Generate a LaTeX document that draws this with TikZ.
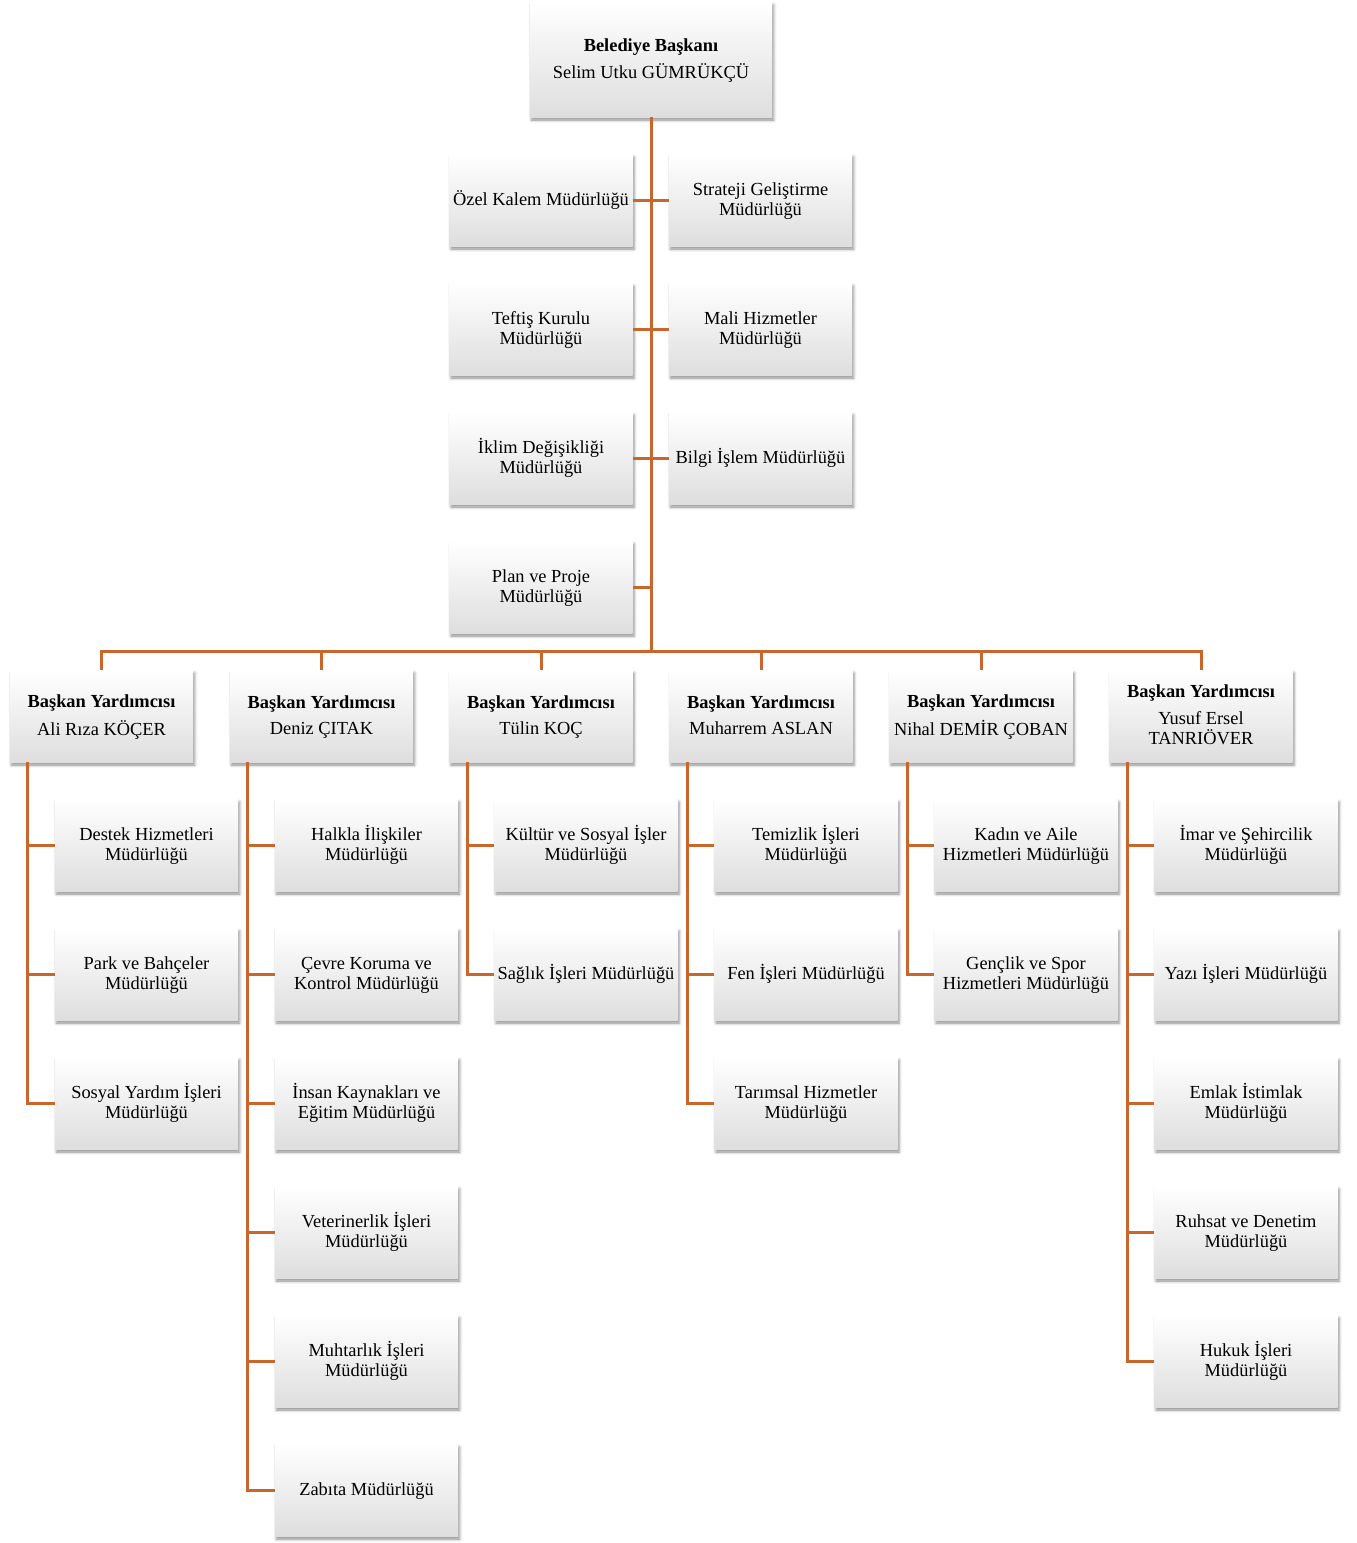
\documentclass[tikz,border=0pt]{standalone}
\usepackage{fontspec}
\setmainfont{Liberation Serif}
\usetikzlibrary{shadows.blur}
\definecolor{lineor}{RGB}{200,102,44}
\newcommand{\bx}[1]{\begin{tabular}{@{}c@{}}\rule{0pt}{17pt}#1\rule[-6.5pt]{0pt}{0pt}\end{tabular}}
\tikzset{
  orgbox/.style={rectangle, minimum width=183pt, minimum height=92pt, inner sep=1pt,
    top color=white, bottom color=gray!26,
    font=\fontsize{18.4}{19.5}\selectfont,
    blur shadow={shadow xshift=1.5pt, shadow yshift=-3pt, shadow blur radius=3pt, shadow opacity=45}},
  topbox/.style={orgbox, minimum width=242pt, minimum height=115pt},
  conn/.style={draw=lineor, line width=3pt}
}
\newcommand{\vptitle}[1]{\bx{\textbf{Başkan Yardımcısı}\\[7pt]#1}}
\begin{document}
\begin{tikzpicture}[x=1pt,y=-1pt]
\useasboundingbox (0,0) rectangle (1357,1543);
\coordinate (bus) at (651,651);
% nodes
\node[topbox] (top) at (651,59.5) {\bx{\textbf{Belediye Başkanı}\\[6pt]Selim Utku GÜMRÜKÇÜ}};
\node[orgbox] (l1) at (541,200) {\bx{Özel Kalem Müdürlüğü}};
\node[orgbox] (r1) at (760.5,200) {\bx{Strateji Geliştirme\\Müdürlüğü}};
\node[orgbox] (l2) at (541,329) {\bx{Teftiş Kurulu\\Müdürlüğü}};
\node[orgbox] (r2) at (760.5,329) {\bx{Mali Hizmetler\\Müdürlüğü}};
\node[orgbox] (l3) at (541,458) {\bx{İklim Değişikliği\\Müdürlüğü}};
\node[orgbox] (r3) at (760.5,458) {\bx{Bilgi İşlem Müdürlüğü}};
\node[orgbox] (l4) at (541,587) {\bx{Plan ve Proje\\Müdürlüğü}};
\coordinate (t4) at (651,587);
% VPs
\node[orgbox] (v1) at (101.5,716) {\vptitle{Ali Rıza KÖÇER}};
\node[orgbox] (v2) at (321.5,716) {\vptitle{Deniz ÇITAK}};
\node[orgbox] (v3) at (541,716) {\vptitle{Tülin KOÇ}};
\node[orgbox] (v4) at (761,716) {\vptitle{Muharrem ASLAN}};
\node[orgbox] (v5) at (981,716) {\vptitle{Nihal DEMİR ÇOBAN}};
\node[orgbox] (v6) at (1201,716) {\vptitle{Yusuf Ersel\\TANRIÖVER}};
% column 1
\node[orgbox] (a1) at (146.5,845) {\bx{Destek Hizmetleri\\Müdürlüğü}};
\node[orgbox] (a2) at (146.5,974) {\bx{Park ve Bahçeler\\Müdürlüğü}};
\node[orgbox] (a3) at (146.5,1103) {\bx{Sosyal Yardım İşleri\\Müdürlüğü}};
% column 2
\node[orgbox] (b1) at (366.5,845) {\bx{Halkla İlişkiler\\Müdürlüğü}};
\node[orgbox] (b2) at (366.5,974) {\bx{Çevre Koruma ve\\Kontrol Müdürlüğü}};
\node[orgbox] (b3) at (366.5,1103) {\bx{İnsan Kaynakları ve\\Eğitim Müdürlüğü}};
\node[orgbox] (b4) at (366.5,1232) {\bx{Veterinerlik İşleri\\Müdürlüğü}};
\node[orgbox] (b5) at (366.5,1361) {\bx{Muhtarlık İşleri\\Müdürlüğü}};
\node[orgbox] (b6) at (366.5,1490) {\bx{Zabıta Müdürlüğü}};
% column 3
\node[orgbox] (c1) at (586,845) {\bx{Kültür ve Sosyal İşler\\Müdürlüğü}};
\node[orgbox] (c2) at (586,974) {\bx{Sağlık İşleri Müdürlüğü}};
% column 4
\node[orgbox] (d1) at (806,845) {\bx{Temizlik İşleri\\Müdürlüğü}};
\node[orgbox] (d2) at (806,974) {\bx{Fen İşleri Müdürlüğü}};
\node[orgbox] (d3) at (806,1103) {\bx{Tarımsal Hizmetler\\Müdürlüğü}};
% column 5
\node[orgbox] (e1) at (1026,845) {\bx{Kadın ve Aile\\Hizmetleri Müdürlüğü}};
\node[orgbox] (e2) at (1026,974) {\bx{Gençlik ve Spor\\Hizmetleri Müdürlüğü}};
% column 6
\node[orgbox] (f1) at (1246,845) {\bx{İmar ve Şehircilik\\Müdürlüğü}};
\node[orgbox] (f2) at (1246,974) {\bx{Yazı İşleri Müdürlüğü}};
\node[orgbox] (f3) at (1246,1103) {\bx{Emlak İstimlak\\Müdürlüğü}};
\node[orgbox] (f4) at (1246,1232) {\bx{Ruhsat ve Denetim\\Müdürlüğü}};
\node[orgbox] (f5) at (1246,1361) {\bx{Hukuk İşleri\\Müdürlüğü}};
% connectors
\draw[conn] (top.south) -- (bus);
\draw[conn] (l1.east) -- (r1.west);
\draw[conn] (l2.east) -- (r2.west);
\draw[conn] (l3.east) -- (r3.west);
\draw[conn] (l4.east) -- (t4);
\foreach \v in {v1,v2,v3,v4,v5,v6} { \draw[conn] (\v.north) |- (bus); }
\foreach \c in {a1,a2,a3} { \draw[conn] ([xshift=18pt]v1.south west) |- (\c.west); }
\foreach \c in {b1,b2,b3,b4,b5,b6} { \draw[conn] ([xshift=18pt]v2.south west) |- (\c.west); }
\foreach \c in {c1,c2} { \draw[conn] ([xshift=18pt]v3.south west) |- (\c.west); }
\foreach \c in {d1,d2,d3} { \draw[conn] ([xshift=18pt]v4.south west) |- (\c.west); }
\foreach \c in {e1,e2} { \draw[conn] ([xshift=18pt]v5.south west) |- (\c.west); }
\foreach \c in {f1,f2,f3,f4,f5} { \draw[conn] ([xshift=18pt]v6.south west) |- (\c.west); }
\end{tikzpicture}
\end{document}
